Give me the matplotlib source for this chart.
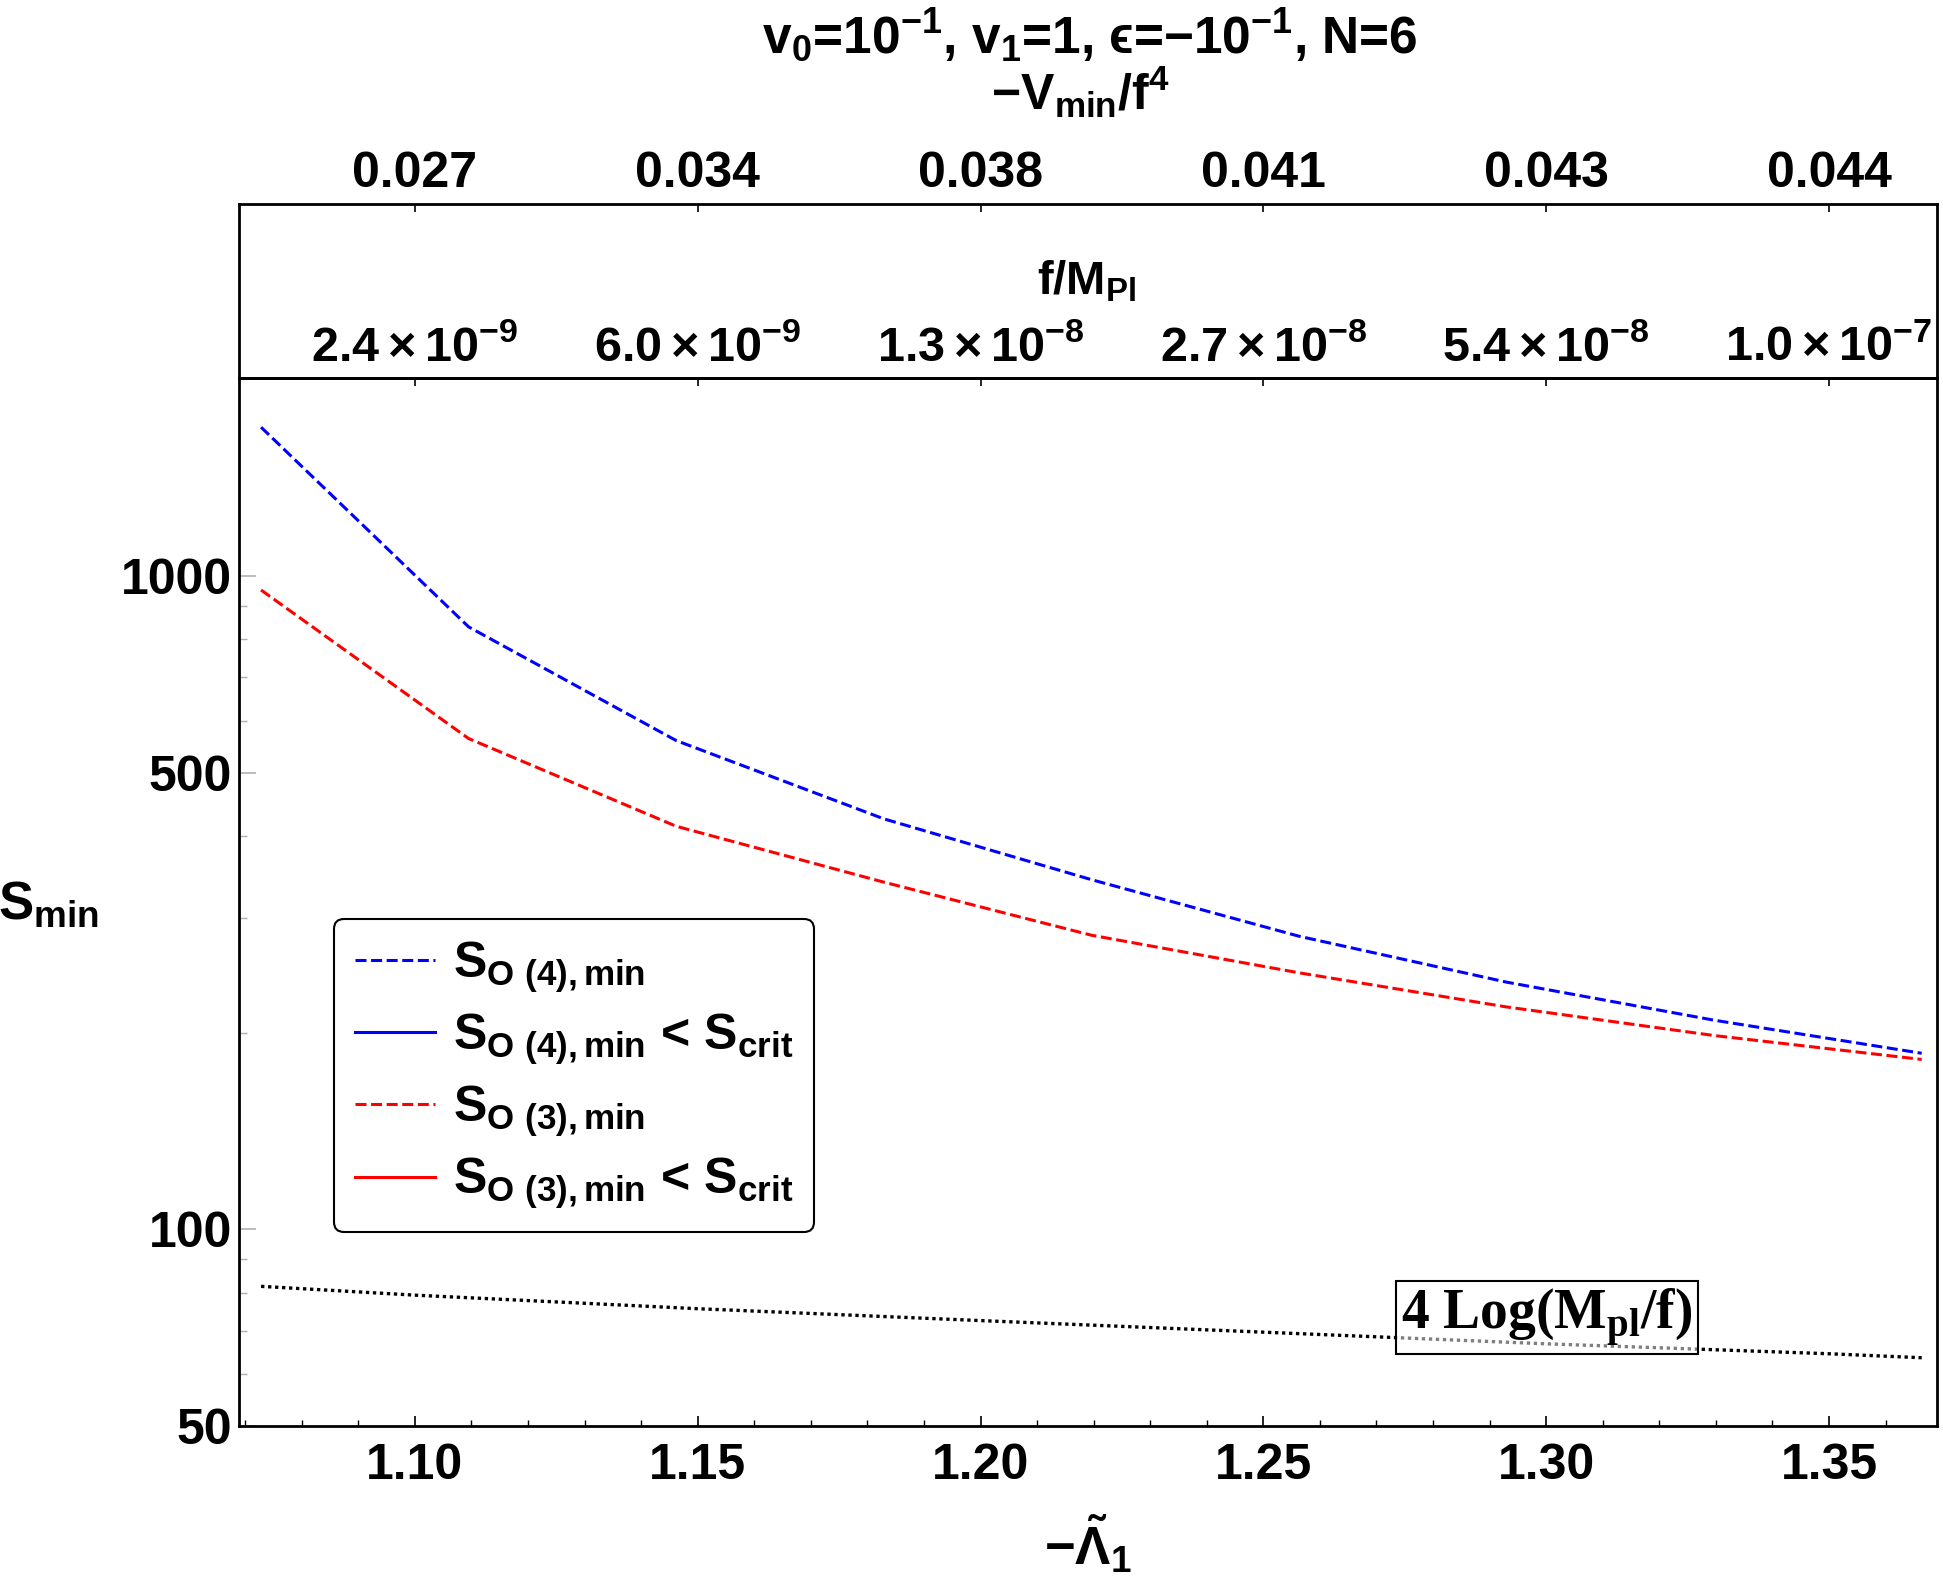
import matplotlib
matplotlib.use("Agg")
import matplotlib.pyplot as plt
from matplotlib.lines import Line2D
from matplotlib.ticker import FixedLocator, FixedFormatter, NullFormatter, MultipleLocator, FormatStrFormatter

plt.rcParams["font.family"] = ["Liberation Sans", "DejaVu Sans"]
plt.rcParams["font.weight"] = "bold"
plt.rcParams["axes.labelweight"] = "bold"
plt.rcParams["mathtext.fontset"] = "custom"
plt.rcParams["mathtext.rm"] = "Liberation Sans:bold"
plt.rcParams["mathtext.it"] = "Liberation Sans:bold"
plt.rcParams["mathtext.bf"] = "Liberation Sans:bold"

# ---------------------------------------------------------------------------
# Data
# ---------------------------------------------------------------------------
LAM = [1.0728, 1.1095, 1.1462, 1.1829, 1.2196, 1.2563, 1.2930, 1.3297, 1.3664]
S_O4 = [1690, 836, 560, 425, 343, 281, 239, 209, 186]
S_O3 = [952, 564, 414, 340, 282, 247, 219, 198, 182]

LAM_LOG = [1.0728, 1.10, 1.15, 1.20, 1.25, 1.30, 1.35, 1.3664]
LOG_BOUND = [81.8, 79.3, 75.6, 72.5, 69.6, 66.8, 64.5, 63.6]

TOP_TICKS = [1.10, 1.15, 1.20, 1.25, 1.30, 1.35]
F_LABELS = [r"$2.4\times10^{-9}$", r"$6.0\times10^{-9}$", r"$1.3\times10^{-8}$",
            r"$2.7\times10^{-8}$", r"$5.4\times10^{-8}$", r"$1.0\times10^{-7}$"]
V_LABELS = ["0.027", "0.034", "0.038", "0.041", "0.043", "0.044"]

Y_MAJOR = [50, 100, 500, 1000]
Y_MINOR = [60, 70, 80, 90, 200, 300, 400, 600, 700, 800, 900]

# ---------------------------------------------------------------------------
W, H = 1943, 1577
fig = plt.figure(figsize=(W / 100, H / 100), dpi=100)
L, R = 239 / W, 1937 / W
B, T, T2 = (H - 1426) / H, (H - 378) / H, (H - 204) / H

axb = fig.add_axes([L, T, R - L, T2 - T])
ax = fig.add_axes([L, B, R - L, T - B])
axb.set_zorder(0)
ax.set_zorder(1)

XLIM = (1.0689, 1.3691)
TICK_FS = 36

ax.plot(LAM, S_O4, color="blue", lw=2.2, ls=(0, (3.6, 1.5)))
ax.plot(LAM, S_O3, color="red", lw=2.2, ls=(0, (3.6, 1.5)))
ax.plot(LAM_LOG, LOG_BOUND, color="black", lw=2.4, ls=(0, (1.0, 1.1)))

ax.set_yscale("log")
ax.set_xlim(*XLIM)
ax.set_ylim(50, 2010)

ax.xaxis.set_major_locator(MultipleLocator(0.05))
ax.xaxis.set_minor_locator(MultipleLocator(0.01))
ax.xaxis.set_major_formatter(FormatStrFormatter("%.2f"))
ax.yaxis.set_major_locator(FixedLocator(Y_MAJOR))
ax.yaxis.set_major_formatter(FixedFormatter([str(v) for v in Y_MAJOR]))
ax.yaxis.set_minor_locator(FixedLocator(Y_MINOR))
ax.yaxis.set_minor_formatter(NullFormatter())

ax.tick_params(axis="x", which="both", direction="in", top=False, color="black",
               labelsize=TICK_FS, pad=12)
ax.tick_params(axis="x", which="major", length=7, width=1.2)
ax.tick_params(axis="x", which="minor", length=4, width=1.0)
ax.tick_params(axis="y", which="both", direction="in", right=False, color="#b0b0b0",
               labelsize=TICK_FS, pad=5)
ax.tick_params(axis="y", which="major", length=12, width=1.2)
ax.tick_params(axis="y", which="minor", length=6, width=1.0)

for sp in ax.spines.values():
    sp.set_linewidth(2.0)

# f/M_Pl axis on the top frame of the main panel
sec = ax.secondary_xaxis("top")
sec.set_xticks(TOP_TICKS)
sec.set_xticklabels(F_LABELS)
sec.tick_params(direction="in", length=6, width=1.2, labelsize=TICK_FS - 1, pad=5)
sec.spines["top"].set_linewidth(2.0)

# band with the -V_min/f^4 axis
axb.set_xlim(*XLIM)
axb.set_yticks([])
axb.set_xticks(TOP_TICKS)
axb.set_xticklabels(V_LABELS)
axb.tick_params(axis="x", direction="in", bottom=False, labelbottom=False,
                top=True, labeltop=True, length=6, width=1.2, labelsize=TICK_FS, pad=5)
for sp in axb.spines.values():
    sp.set_linewidth(2.0)

fig.text(1087 / W, 1 - 282 / H, r"f/M$_{\mathrm{Pl}}$", ha="center", va="center", fontsize=34)
fig.text(1080 / W, 1 - 92 / H, r"$-$V$_{\mathrm{min}}$/f$^{4}$", ha="center", va="center", fontsize=36)
fig.text(1090 / W, 1 - 36 / H, r"v$_0$=10$^{-1}$, v$_1$=1, ϵ=$-$10$^{-1}$, N=6",
         ha="center", va="center", fontsize=37)

ax.set_ylabel(r"S$_{\mathrm{min}}$", rotation=0, fontsize=38, fontweight="bold",
              ha="center", va="center")
ax.yaxis.set_label_coords(-0.112, 0.497)
ax.set_xlabel(r"$-\tilde{\Lambda}_1$", fontsize=38, fontweight="bold", va="center")
ax.xaxis.set_label_coords(0.5, -0.113)

# legend
handles = [
    Line2D([], [], color="blue", lw=2.2, ls=(0, (3.6, 1.5))),
    Line2D([], [], color="blue", lw=2.2),
    Line2D([], [], color="red", lw=2.2, ls=(0, (3.6, 1.5))),
    Line2D([], [], color="red", lw=2.2),
]
labels = [
    r"S$_{\mathrm{O\ (4),min}}$",
    r"S$_{\mathrm{O\ (4),min}}$ < S$_{\mathrm{crit}}$",
    r"S$_{\mathrm{O\ (3),min}}$",
    r"S$_{\mathrm{O\ (3),min}}$ < S$_{\mathrm{crit}}$",
]
leg = ax.legend(handles, labels, loc="upper left", bbox_to_anchor=(0.056, 0.484),
                borderaxespad=0, fontsize=36, handlelength=1.6, handletextpad=0.35,
                labelspacing=0.34, borderpad=0.42, fancybox=True, framealpha=1)
leg.get_frame().set_edgecolor("black")
leg.get_frame().set_linewidth(1.5)

ax.text(1.3001, 73.3, r"4 Log(M$_{\mathregular{pl}}$/f)", family="Liberation Serif",
        fontweight="bold", fontsize=40, ha="center", va="center",
        bbox=dict(boxstyle="square,pad=0.1", fc=(1, 1, 1, 0.5), ec="black", lw=1.5))

fig.savefig("out.png", dpi=100)
